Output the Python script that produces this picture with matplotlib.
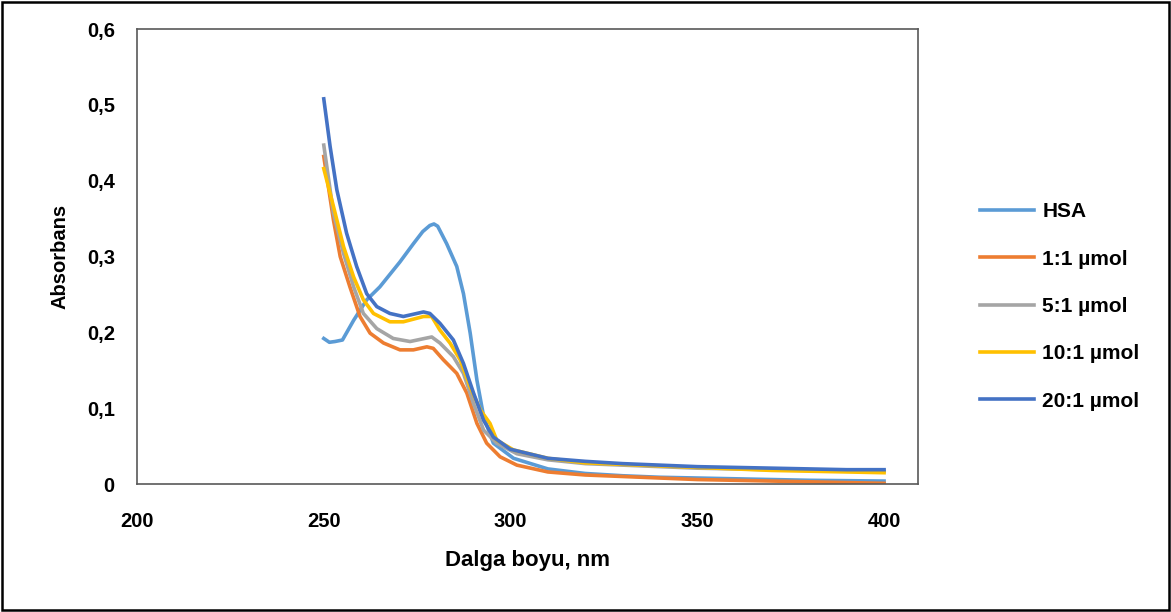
import matplotlib
matplotlib.use("Agg")
from matplotlib import pyplot as plt
from matplotlib.ticker import FuncFormatter
from matplotlib.patches import Rectangle

# ---- data (wavelength nm, absorbance) ----
hsa_x = [250, 251.5, 253, 255, 258, 261.5, 265, 268.6, 270.4, 274, 276.5, 278.4, 279.5,
         280.5, 282.9, 285.6, 287.4, 289.2, 291, 292.8, 295.4, 300.8, 310, 320, 330,
         340, 350, 360, 370, 380, 390, 400]
hsa_y = [0.192, 0.187, 0.188, 0.190, 0.216, 0.243, 0.260, 0.282, 0.293, 0.317, 0.333,
         0.341, 0.343, 0.340, 0.317, 0.287, 0.251, 0.199, 0.137, 0.089, 0.054, 0.034,
         0.020, 0.014, 0.011, 0.009, 0.008, 0.007, 0.006, 0.005, 0.0045, 0.004]

r1_x = [250, 252.6, 254.4, 257, 259.7, 262.4, 266, 270.4, 274, 277.6, 279.3, 282, 285.6,
        288.3, 291, 293.6, 297.2, 301.7, 310, 320, 330, 340, 350, 360, 370, 380, 390, 400]
r1_y = [0.432, 0.348, 0.300, 0.260, 0.221, 0.199, 0.186, 0.177, 0.177, 0.181, 0.179,
        0.164, 0.146, 0.120, 0.080, 0.054, 0.036, 0.025, 0.016, 0.012, 0.010, 0.008,
        0.006, 0.005, 0.004, 0.003, 0.002, 0.001]

r5_x = [250, 252.6, 255.3, 258, 260.6, 264.2, 268.6, 273.1, 278.9, 281.1, 284.7, 287.4,
        290.1, 292.8, 296.3, 301.7, 310, 320, 330, 340, 350, 360, 370, 380, 390, 400]
r5_y = [0.447, 0.357, 0.304, 0.260, 0.225, 0.205, 0.192, 0.188, 0.194, 0.186, 0.168,
        0.146, 0.106, 0.071, 0.054, 0.040, 0.032, 0.027, 0.025, 0.023, 0.021, 0.020,
        0.019, 0.018, 0.017, 0.017]

r10_x = [250, 252.6, 255.3, 258, 260.6, 263.3, 267.7, 271.3, 276.7, 278.9, 281.1, 283.8,
         286.5, 289.2, 291.9, 294.5, 296.3, 300.8, 310, 320, 330, 340, 350, 360, 370,
         380, 390, 400]
r10_y = [0.416, 0.366, 0.313, 0.273, 0.243, 0.225, 0.214, 0.214, 0.221, 0.221, 0.203,
         0.186, 0.164, 0.128, 0.098, 0.080, 0.058, 0.045, 0.034, 0.028, 0.026, 0.024,
         0.022, 0.020, 0.018, 0.017, 0.016, 0.015]

r20_x = [250, 251.7, 253.5, 256.1, 258.8, 261.5, 264.2, 267.7, 271.3, 276.7, 278.4, 281.1,
         284.7, 287.4, 290.1, 292.8, 295.4, 299.9, 310, 320, 330, 340, 350, 360, 370,
         380, 390, 400]
r20_y = [0.508, 0.445, 0.388, 0.331, 0.287, 0.251, 0.234, 0.225, 0.221, 0.227, 0.225,
         0.212, 0.190, 0.159, 0.120, 0.084, 0.062, 0.046, 0.034, 0.030, 0.027, 0.025,
         0.023, 0.022, 0.021, 0.020, 0.019, 0.019]

series = [
    ("HSA", hsa_x, hsa_y, "#5B9BD5"),
    ("1:1 µmol", r1_x, r1_y, "#ED7D31"),
    ("5:1 µmol", r5_x, r5_y, "#A5A5A5"),
    ("10:1 µmol", r10_x, r10_y, "#FFC000"),
    ("20:1 µmol", r20_x, r20_y, "#4472C4"),
]

plt.rcParams['font.family'] = ['Liberation Sans', 'DejaVu Sans']
plt.rcParams['font.weight'] = 'bold'

fig = plt.figure(figsize=(11.71, 6.12), dpi=100)
ax = fig.add_axes([0.117, 0.209, 0.667, 0.7435])

for name, xs, ys, col in series:
    ax.plot(xs, ys, color=col, lw=2.6, label=name, solid_joinstyle='round')

ax.set_xlim(200, 409.1)
ax.set_ylim(0, 0.6)
ax.set_xticks([200, 250, 300, 350, 400])
ax.set_yticks([0, 0.1, 0.2, 0.3, 0.4, 0.5, 0.6])
ax.yaxis.set_major_formatter(FuncFormatter(
    lambda v, p: "0" if abs(v) < 1e-9 else ("%.1f" % v).replace(".", ",")))
ax.tick_params(length=0, labelsize=14.5)
ax.tick_params(axis='y', pad=16)
ax.tick_params(axis='x', pad=20)
for lab in ax.get_xticklabels() + ax.get_yticklabels():
    lab.set_fontweight('bold')
for sp in ax.spines.values():
    sp.set_color('#595959')
    sp.set_linewidth(1.2)

ax.set_xlabel("Dalga boyu, nm", fontsize=16, fontweight='bold')
ax.set_ylabel("Absorbans", fontsize=14.5, fontweight='bold')
ax.xaxis.set_label_coords(0.5, -0.145)
ax.yaxis.set_label_coords(-0.086, 0.5)

leg = fig.legend(loc='upper left', bbox_to_anchor=(0.821, 0.7), frameon=False,
                 fontsize=15, handlelength=2.6, handletextpad=0.38, labelspacing=1.36)
for t in leg.get_texts():
    t.set_fontweight('bold')

# outer chart border
fig.patches.append(Rectangle((0.002, 0.004), 0.996, 0.992, transform=fig.transFigure,
                             fill=False, edgecolor='black', lw=1.8))

fig.savefig("out.png", dpi=100)
